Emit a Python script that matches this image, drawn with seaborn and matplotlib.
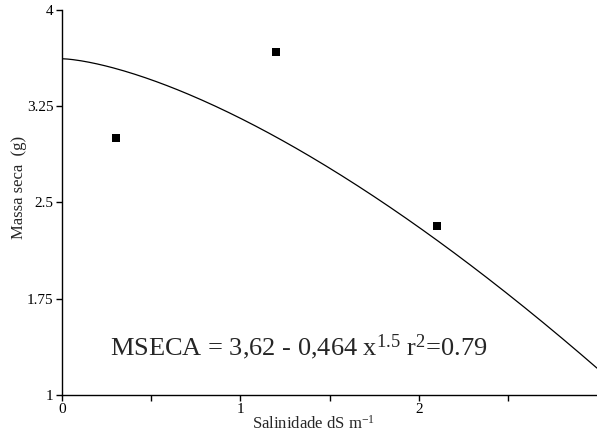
import numpy as np
import pandas as pd
import matplotlib
matplotlib.use("Agg")
import matplotlib.pyplot as plt
import seaborn as sns

# datos observados
salinidad = [0.3, 1.2, 2.1]
massa_seca = [3.0, 3.67, 2.32]

# modelo ajustado: MSECA = 3,62 - 0,464 x^1.5
coef_a = 3.62
coef_b = 0.464

y_ticks = [1, 1.75, 2.5, 3.25, 4]
y_labels = ["1", "1.75", "2.5", "3.25", "4"]
x_ticks = [0, 1, 2]
x_labels = ["0", "1", "2"]

sns.set_theme(style="ticks")
plt.rcParams["font.family"] = ["Liberation Serif", "DejaVu Serif"]
plt.rcParams["mathtext.fontset"] = "custom"
plt.rcParams["mathtext.rm"] = "Liberation Serif"
plt.rcParams["mathtext.it"] = "Liberation Serif"

fig = plt.figure(figsize=(5.97, 4.34), dpi=100)
ax = fig.add_axes([0.104, 0.09, 0.896, 0.887])

xs = np.linspace(0, 3, 200)
curva = pd.DataFrame({"x": xs, "y": coef_a - coef_b * xs ** 1.5})
sns.lineplot(data=curva, x="x", y="y", color="black", lw=0.9, ax=ax)

df = pd.DataFrame({"x": salinidad, "y": massa_seca})
sns.scatterplot(data=df, x="x", y="y", marker="s", s=28, color="black",
                edgecolor="black", linewidth=0, ax=ax)

ax.set_xlim(0, 3)
ax.set_ylim(1, 4)
ax.set_xticks(x_ticks)
ax.set_xticklabels(x_labels)
ax.set_xticks([0.5, 1.5, 2.5], minor=True)
ax.set_yticks(y_ticks)
ax.set_yticklabels(y_labels)
ax.tick_params(axis="both", which="major", length=4, width=1, labelsize=11,
               colors="black", pad=2)
ax.tick_params(axis="x", which="minor", length=4, width=1, colors="black")

ax.set_xlabel("Salinidade dS m$^{-1}$", fontsize=12)
ax.set_ylabel("Massa seca  (g)", fontsize=12)
ax.xaxis.set_label_coords(0.47, -0.052)
ax.yaxis.set_label_coords(-0.066, 0.54)

for s in ["top", "right"]:
    ax.spines[s].set_visible(False)
for s in ["left", "bottom"]:
    ax.spines[s].set_color("black")
    ax.spines[s].set_linewidth(1)

ax.text(0.27, 1.37, "MSECA = 3,62 - 0,464 x$^{1.5}$ r$^{2}$=0.79",
        fontsize=19, va="center", ha="left")

fig.savefig("out.png", dpi=100)
plt.close(fig)
